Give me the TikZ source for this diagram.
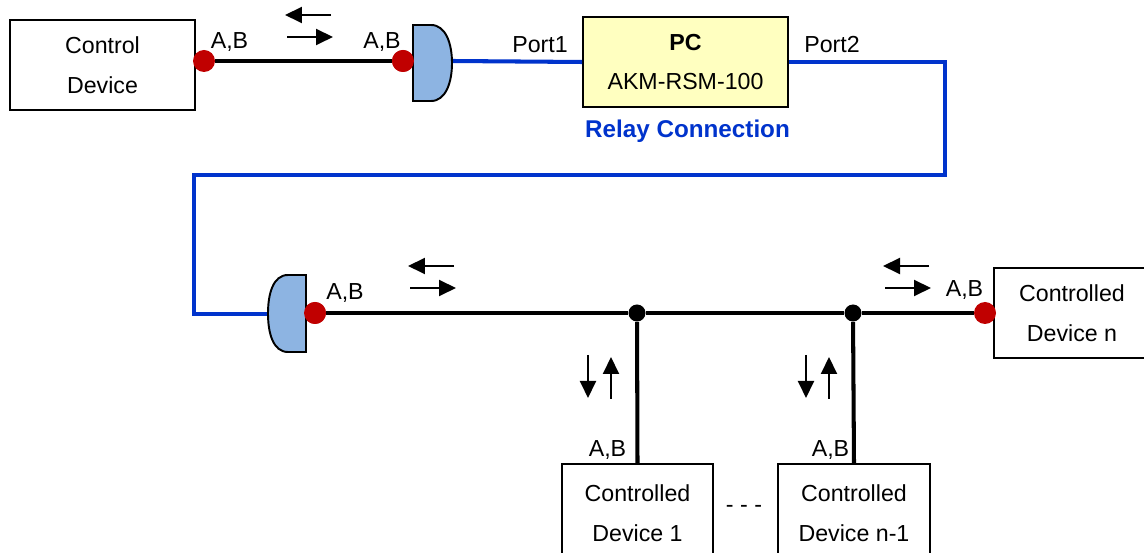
\documentclass[tikz,border=0pt]{standalone}
\usepackage{fontspec}
\setmainfont{Liberation Sans}
\usetikzlibrary{arrows.meta}
\definecolor{relayblue}{HTML}{0033CC}
\definecolor{pinred}{HTML}{C00000}
\definecolor{plugblue}{HTML}{8DB4E2}
\definecolor{pcyellow}{HTML}{FFFFC0}

\begin{document}
\begin{tikzpicture}[
  x=0.02cm, y=-0.02cm,
  font=\fontsize{13.2}{22.5}\selectfont,
  dev/.style={draw, line width=1.1pt, minimum height=1.8cm, align=center, inner sep=0pt},
  pin/.style={circle, fill=pinred, minimum size=0.44cm, inner sep=0pt},
  jn/.style={circle, fill=black, minimum size=0.34cm, inner sep=0pt},
  bus/.style={line width=2.3pt},
  relay/.style={line width=2.3pt, draw=relayblue},
  plug/.style={draw, line width=1.1pt, fill=plugblue},
  dirarr/.style={-{Triangle[length=3.4mm, width=3.2mm]}, line width=1.1pt},
  lbl/.style={inner sep=0pt}
]
\useasboundingbox (0,0) rectangle (1144,553);
\clip (0,0) rectangle (1144,553);

% devices
\node[dev, minimum width=3.7cm] (ctrl) at (102.5,65) {Control\\Device};
\node[dev, minimum width=4.1cm, fill=pcyellow] (pc) at (685.5,62) {\textbf{PC}\\AKM-RSM-100};
\node[dev, minimum width=3.12cm] (devn) at (1072,313) {Controlled\\Device n};
\node[dev, minimum width=3.02cm, minimum height=1.96cm] (dev1) at (637.5,513) {Controlled\\Device 1};
\node[dev, minimum width=3.04cm, minimum height=1.96cm] (devm) at (854,513) {Controlled\\Device n-1};
\node[lbl] (dots) at (744,509) {- - -};

% pins and junctions
\node[pin] (ra) at (204,61) {};
\node[pin] (rb) at (403,61) {};
\node[pin] (rc) at (315,313) {};
\node[pin] (rd) at (985,313) {};
\node[jn] (j1) at (637,313) {};
\node[jn] (j2) at (853,313) {};
\coordinate (p1) at (452,61);
\coordinate (p2) at (268,314);
\coordinate (c1) at (945,175);
\coordinate (c2) at (194,175);

% lines
\draw[bus] (ra) -- (rb);
\draw[bus] (rc) -- (j1) -- (j2) -- (rd);
\draw[bus] (j1) -- (dev1.north);
\draw[bus] (j2) -- (devm.north);
\draw[relay] (p1) -- (pc.west);
\draw[relay] (pc.east) -| (c1) -- (c2) |- (p2);

% plugs
\draw[plug] (413,25) -- (431,25) .. controls (446,25) and (452,44) .. (452,63)
  .. controls (452,82) and (446,101) .. (431,101) -- (413,101) -- cycle;
\draw[plug] (306,275) -- (288,275) .. controls (273,275) and (268,294) .. (268,313.5)
  .. controls (268,333) and (273,352) .. (288,352) -- (306,352) -- cycle;
\node[pin] at (rb) {};
\node[pin] at (rc) {};

% direction arrows
\foreach \x/\y in {285/15, 408/266, 883/266} {
  \draw[dirarr] (\x+46,\y) -- (\x,\y);
  \draw[dirarr] (\x+2,\y+22) -- (\x+48,\y+22);
}
\foreach \x in {588,806} {
  \draw[dirarr] (\x,355) -- (\x,398);
  \draw[dirarr] (\x+23,399) -- (\x+23,357);
}

% labels
\foreach \x/\y in {229.5/42, 382/42, 345/293, 964.5/290, 607.5/450, 830.5/450}
  \node[lbl] at (\x,\y) {A,B};
\node[lbl] (port1) at (540,45) {Port1};
\node[lbl] (port2) at (832,45) {Port2};
\node[lbl, text=relayblue, font=\fontsize{13.8}{16}\selectfont\bfseries] (rly) at (687.5,131) {Relay Connection};
\end{tikzpicture}
\end{document}
